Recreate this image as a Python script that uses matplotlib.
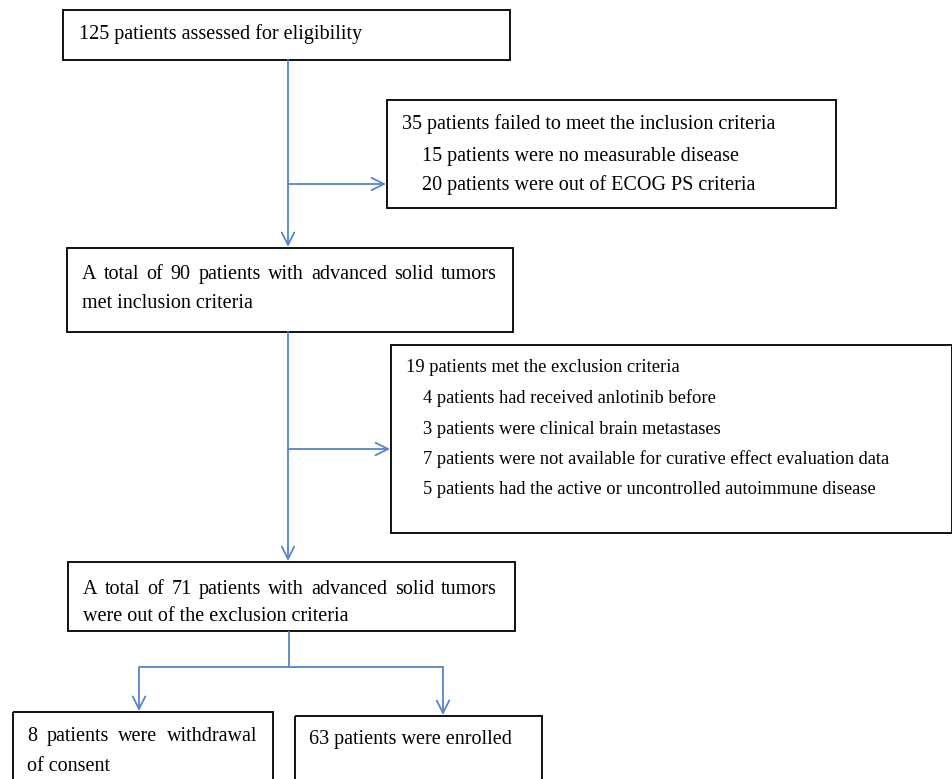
import matplotlib
matplotlib.use('agg')
import matplotlib.pyplot as plt
from matplotlib.patches import Rectangle

# box texts (top to bottom)
box_texts = [
    ["125 patients assessed for eligibility"],
    ["35 patients failed to meet the inclusion criteria",
     "15 patients were no measurable disease",
     "20 patients were out of ECOG PS criteria"],
    ["A total of 90 patients with advanced solid tumors",
     "met inclusion criteria"],
    ["19 patients met the exclusion criteria",
     "4 patients had received anlotinib before",
     "3 patients were clinical brain metastases",
     "7 patients were not available for curative effect evaluation data",
     "5 patients had the active or uncontrolled autoimmune disease"],
    ["A total of 71 patients with advanced solid tumors",
     "were out of the exclusion criteria"],
    ["8 patients were withdrawal", "of consent"],
    ["63 patients were enrolled"],
]

# pixel layout: box (x0, y0, x1, y1), text x, line centres, indent of sub-lines,
# right edge for justified first line (None = ragged), font size
boxes = [
    dict(box=(63, 10, 510, 60), tx=79, ys=[33], indent=0, just=None, fs=14.5),
    dict(box=(387, 100, 836, 208), tx=402, ys=[123, 155, 184], indent=20,
         just=None, fs=14.5),
    dict(box=(67, 248, 513, 332), tx=82, ys=[273, 302], indent=0, just=497,
         fs=14.5),
    dict(box=(391, 345, 952, 533), tx=406, ys=[367, 398, 429, 459, 489],
         indent=17, just=None, fs=13.3),
    dict(box=(68, 562, 515, 631), tx=83, ys=[588, 615], indent=0, just=497,
         fs=14.5),
    dict(box=(13, 712, 273, 800), tx=27, ys=[735, 765], indent=0, just=257,
         fs=14.5),
    dict(box=(295, 716, 542, 800), tx=309, ys=[738], indent=0, just=None,
         fs=14.5),
]

blue = '#5585cc'
plt.rcParams['font.family'] = ['Liberation Serif', 'DejaVu Serif']

fig = plt.figure(figsize=(9.53, 7.79), dpi=100)
ax = fig.add_axes([0, 0, 1, 1])
ax.set_xlim(0, 953)
ax.set_ylim(779, 0)
ax.axis('off')
renderer = fig.canvas.get_renderer()


def put(x, y, s, fs):
    # y is the visual centre of the line; draw on the baseline below it
    return ax.text(x, y + fs * 0.4, s, fontsize=fs, va='baseline',
                   ha='left', color='black')


def justify(x0, x1, y, line, fs):
    words = line.split()
    texts = [put(0, y, w, fs) for w in words]
    widths = [t.get_window_extent(renderer).width for t in texts]
    gap = (x1 - x0 - sum(widths)) / (len(words) - 1)
    x = x0
    for t, w in zip(texts, widths):
        t.set_x(x)
        x += w + gap


for b, lines in zip(boxes, box_texts):
    x0, y0, x1, y1 = b['box']
    ax.add_patch(Rectangle((x0, y0), x1 - x0, y1 - y0, fill=False,
                           ec='#111111', lw=1.4))
    for i, (line, y) in enumerate(zip(lines, b['ys'])):
        if i == 0 and b['just'] is not None:
            justify(b['tx'], b['just'], y, line, b['fs'])
            continue
        tx = b['tx'] + (b['indent'] if i > 0 else 0)
        put(tx, y, line, b['fs'])


def arrow(x0, y0, x1, y1):
    ax.annotate('', xy=(x1, y1), xytext=(x0, y0),
                arrowprops=dict(arrowstyle='->,head_length=0.9,head_width=0.45',
                                color=blue, lw=1.3, shrinkA=0, shrinkB=0))


def seg(xs, ys):
    ax.plot(xs, ys, color=blue, lw=1.3, solid_capstyle='butt')


arrow(288, 60, 288, 247)
arrow(288, 184, 386, 184)
arrow(288, 332, 288, 561)
arrow(288, 449, 390, 449)
seg([289, 289], [631, 667])
seg([139, 443], [667, 667])
arrow(139, 667, 139, 711)
arrow(443, 667, 443, 715)

fig.savefig('out.png', dpi=100, facecolor='w')
